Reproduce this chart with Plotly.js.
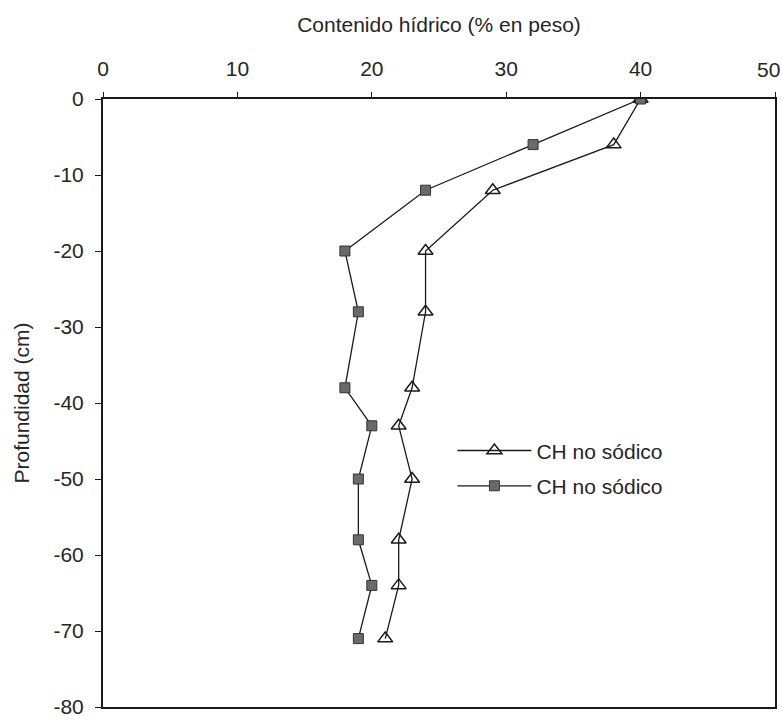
<!DOCTYPE html>
<html>
<head>
<meta charset="utf-8">
<script src="https://cdn.plot.ly/plotly-3.0.1.min.js"></script>
<style>
  html, body { margin: 0; padding: 0; background: #ffffff; }
  #chart { width: 782px; height: 720px; }
</style>
</head>
<body>
<div id="chart"></div>
<script>
// Water content profile (% by weight) against depth (cm)
const seriesNames = ["CH no sódico", "CH no sódico"];

// open triangles
const triDepth = [0, -6, -12, -20, -28, -38, -43, -50, -58, -64, -71];
const triWater = [40, 38, 29, 24, 24, 23, 22, 23, 22, 22, 21];

// filled squares
const sqDepth = [0, -6, -12, -20, -28, -38, -43, -50, -58, -64, -71];
const sqWater = [40, 32, 24, 18, 19, 18, 20, 19, 19, 20, 19];

const xTickVals = [0, 10, 20, 30, 40, 50];
const xTickText = ["0", "10", "20", "30", "40", "50"];
const yTickVals = [0, -10, -20, -30, -40, -50, -60, -70, -80];
const yTickText = ["0", "-10", "-20", "-30", "-40", "-50", "-60", "-70", "-80"];

const FONT = "Liberation Sans, Arial, Helvetica, sans-serif";
const INK = "#1a1a1a";
const TXT = "#262626";

// the last x label sits at the page edge, so it is drawn as a nudged annotation
const lastIdx = xTickVals.length - 1;
const shownTickText = xTickText.map((t, i) => (i === lastIdx ? "" : t));

const traces = [
  {
    x: triWater, y: triDepth, name: seriesNames[0], legendgroup: "a",
    type: "scatter", mode: "lines+markers",
    line: { color: INK, width: 1.3 },
    marker: { symbol: "triangle-up-open", size: 13, color: INK, line: { width: 1.5, color: INK } }
  },
  {
    x: sqWater, y: sqDepth, name: seriesNames[1], legendgroup: "b",
    type: "scatter", mode: "lines+markers",
    line: { color: INK, width: 1.3 },
    marker: { symbol: "square", size: 10, color: "#6a6a6a", line: { width: 1, color: "#333333" } }
  }
];

const layout = {
  width: 782, height: 720,
  margin: { l: 103, r: 7, t: 99, b: 13 },
  paper_bgcolor: "#ffffff", plot_bgcolor: "#ffffff",
  font: { family: FONT, size: 21, color: TXT },
  showlegend: true,
  legend: {
    x: 0.52, y: 0.455, xanchor: "left", yanchor: "top",
    bgcolor: "rgba(0,0,0,0)", borderwidth: 0,
    font: { family: FONT, size: 21, color: TXT },
    itemwidth: 74, tracegroupgap: 5
  },
  xaxis: {
    side: "top", range: [0, 50],
    tickmode: "array", tickvals: xTickVals, ticktext: shownTickText,
    ticks: "outside", ticklen: 5, tickwidth: 1, tickcolor: INK,
    ticklabelstandoff: 8,
    showline: true, linecolor: INK, linewidth: 2, mirror: true,
    showgrid: false, zeroline: false,
    title: { text: "Contenido hídrico (% en peso)", standoff: 18, font: { family: FONT, size: 21, color: TXT } },
    automargin: false
  },
  yaxis: {
    range: [-80, 0],
    tickmode: "array", tickvals: yTickVals, ticktext: yTickText,
    ticks: "outside", ticklen: 6, tickwidth: 1, tickcolor: INK,
    ticklabelstandoff: 7,
    showline: true, linecolor: INK, linewidth: 2, mirror: true,
    showgrid: false, zeroline: false,
    title: { text: "Profundidad (cm)", standoff: 18, font: { family: FONT, size: 21, color: TXT } },
    automargin: false
  },
  annotations: [
    {
      x: xTickVals[lastIdx], xref: "x", y: 1, yref: "paper",
      text: xTickText[lastIdx], showarrow: false,
      xanchor: "center", yanchor: "middle", xshift: -7, yshift: 30,
      font: { family: FONT, size: 21, color: TXT }
    }
  ]
};

Plotly.newPlot("chart", traces, layout, { staticPlot: true, displayModeBar: false });
</script>
</body>
</html>
